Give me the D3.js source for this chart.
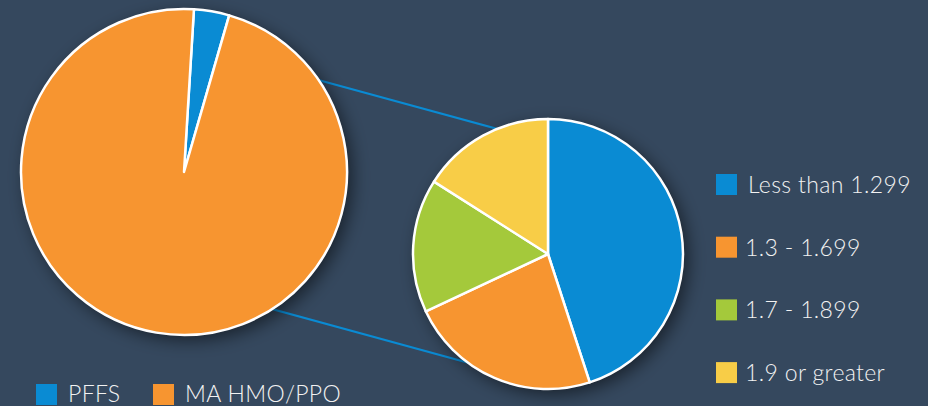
<!DOCTYPE html>
<html>
<head>
<meta charset="utf-8">
<script src="https://cdn.jsdelivr.net/npm/d3@7"></script>
<style>
  html, body { margin: 0; padding: 0; background: #35485e; }
  svg { display: block; }
  text { font-family: Lato, "Open Sans", sans-serif; font-weight: 300; fill: #f2f2f2; letter-spacing: 0.35px; }
</style>
</head>
<body>
<svg id="chart" width="928" height="406"></svg>
<script>
// ---- data ----
const planTypes = ["PFFS", "MA HMO/PPO"];
const planShares = [3.5, 96.5];
const planColors = ["#0a8bd3", "#f79530"];

const riskBands = ["Less than 1.299", "1.3 - 1.699", "1.7 - 1.899", "1.9 or greater"];
const riskShares = [45, 23, 16, 16];
const riskColors = ["#0a8bd3", "#f79530", "#a4c93b", "#f8cd47"];

// ---- layout ----
const W = 928, H = 406;
const svg = d3.select("#chart");
svg.append("rect").attr("width", W).attr("height", H).attr("fill", "#35485e");

const defs = svg.append("defs");
const f = defs.append("filter").attr("id", "shadow")
  .attr("x", "-30%").attr("y", "-30%").attr("width", "160%").attr("height", "160%");
f.append("feDropShadow").attr("dx", 5).attr("dy", 5).attr("stdDeviation", 9)
  .attr("flood-color", "#000").attr("flood-opacity", 0.55);

const big = { cx: 184, cy: 172, r: 163 };
const small = { cx: 548, cy: 254, r: 135 };

// connector lines (drawn behind the pies)
const connectors = [
  [[300, 75], [520, 135]],
  [[250, 303], [480, 366]]
];
svg.append("g").selectAll("line").data(connectors).join("line")
  .attr("x1", d => d[0][0]).attr("y1", d => d[0][1])
  .attr("x2", d => d[1][0]).attr("y2", d => d[1][1])
  .attr("stroke", "#0a8bd3").attr("stroke-width", 2.2);

// big pie
const a0 = 0.061;
const bigPie = d3.pie().sort(null).startAngle(a0).endAngle(a0 + 2 * Math.PI);
const bigArc = d3.arc().innerRadius(0).outerRadius(big.r);
const gBig = svg.append("g").attr("transform", `translate(${big.cx},${big.cy})`);
gBig.append("circle").attr("r", big.r).attr("fill", "#f79530").attr("filter", "url(#shadow)");
gBig.selectAll("path").data(bigPie(planShares)).join("path")
  .attr("d", bigArc)
  .attr("fill", (d, i) => planColors[i])
  .attr("stroke", "#fff").attr("stroke-width", 2.5).attr("stroke-linejoin", "round");

// small pie
const smallPie = d3.pie().sort(null);
const smallArc = d3.arc().innerRadius(0).outerRadius(small.r);
const gSmall = svg.append("g").attr("transform", `translate(${small.cx},${small.cy})`);
gSmall.append("circle").attr("r", small.r).attr("fill", "#0a8bd3").attr("filter", "url(#shadow)");
gSmall.selectAll("path").data(smallPie(riskShares)).join("path")
  .attr("d", smallArc)
  .attr("fill", (d, i) => riskColors[i])
  .attr("stroke", "#fff").attr("stroke-width", 2.5).attr("stroke-linejoin", "round");

// right legend
const rl = svg.append("g");
const rItems = rl.selectAll("g").data(riskBands).join("g")
  .attr("transform", (d, i) => `translate(716, ${174 + i * 62.7})`);
rItems.append("rect").attr("width", 21).attr("height", 21).attr("fill", (d, i) => riskColors[i]);
rItems.append("text").attr("x", (d, i) => i === 0 ? 32 : 29).attr("y", 19)
  .attr("font-size", 23).text(d => d);

// bottom legend
const bl = svg.append("g");
const bX = [36, 153];
const bItems = bl.selectAll("g").data(planTypes).join("g")
  .attr("transform", (d, i) => `translate(${bX[i]}, 384)`);
bItems.append("rect").attr("width", 21).attr("height", 21).attr("fill", (d, i) => planColors[i]);
bItems.append("text").attr("x", 32).attr("y", 18).attr("font-size", 23).text(d => d);
</script>
</body>
</html>
